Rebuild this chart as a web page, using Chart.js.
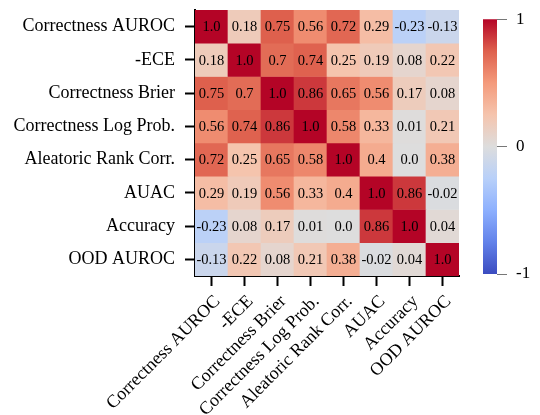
<!DOCTYPE html>
<html>
<head>
<meta charset="utf-8">
<script src="https://cdn.jsdelivr.net/npm/chart.js@4.4.1/dist/chart.umd.min.js"></script>
<style>
  html, body { margin: 0; padding: 0; background: #fff; }
  #wrap { position: relative; width: 540px; height: 415px; }
  #main { position: absolute; left: 0; top: 0; width: 540px; height: 415px; }
  #bar { position: absolute; left: 470px; top: 0; width: 70px; height: 415px; }
</style>
</head>
<body>
<div id="wrap">
  <div id="main"><canvas id="heatmap"></canvas></div>
  <div id="bar"><canvas id="colorbar"></canvas></div>
</div>
<script>
// --- datos ---
const metrics = [
  'Correctness AUROC', '-ECE', 'Correctness Brier', 'Correctness Log Prob.',
  'Aleatoric Rank Corr.', 'AUAC', 'Accuracy', 'OOD AUROC'
];
const rowAUROC   = [1.0, 0.18, 0.75, 0.56, 0.72, 0.29, -0.23, -0.13];
const rowECE     = [0.18, 1.0, 0.7, 0.74, 0.25, 0.19, 0.08, 0.22];
const rowBrier   = [0.75, 0.7, 1.0, 0.86, 0.65, 0.56, 0.17, 0.08];
const rowLogProb = [0.56, 0.74, 0.86, 1.0, 0.58, 0.33, 0.01, 0.21];
const rowRank    = [0.72, 0.25, 0.65, 0.58, 1.0, 0.4, 0.0, 0.38];
const rowAUAC    = [0.29, 0.19, 0.56, 0.33, 0.4, 1.0, 0.86, -0.02];
const rowAcc     = [-0.23, 0.08, 0.17, 0.01, 0.0, 0.86, 1.0, 0.04];
const rowOOD     = [-0.13, 0.22, 0.08, 0.21, 0.38, -0.02, 0.04, 1.0];
const corrRows = [rowAUROC, rowECE, rowBrier, rowLogProb, rowRank, rowAUAC, rowAcc, rowOOD];
const colorbarTicks = [-1, 0, 1];

const FONT = '"Liberation Serif", "Times New Roman", serif';

// coolwarm (matplotlib), 9 paradas
const coolwarm = [
  [59, 76, 192], [98, 130, 234], [141, 176, 254], [184, 208, 249],
  [221, 221, 221], [245, 196, 173], [244, 154, 123], [222, 96, 77], [180, 4, 38]
];
function cwColor(v) {
  let t = Math.max(0, Math.min(1, (v + 1) / 2)) * (coolwarm.length - 1);
  let i = Math.min(Math.floor(t), coolwarm.length - 2);
  let f = t - i;
  const a = coolwarm[i], b = coolwarm[i + 1];
  const c = a.map((x, k) => Math.round(x + (b[k] - x) * f));
  return `rgb(${c[0]},${c[1]},${c[2]})`;
}
function fmt(v) {
  return Number.isInteger(Math.round(v * 100) / 10) ? v.toFixed(1) : String(v);
}

// texto dentro de cada celda
const cellText = {
  id: 'cellText',
  afterDatasetsDraw(chart) {
    const ctx = chart.ctx;
    ctx.save();
    ctx.font = '14.5px ' + FONT;
    ctx.fillStyle = '#000';
    ctx.textAlign = 'center';
    ctx.textBaseline = 'middle';
    chart.data.datasets.forEach((ds, i) => {
      chart.getDatasetMeta(i).data.forEach((el, j) => {
        const p = el.getCenterPoint();
        ctx.fillText(fmt(corrRows[i][j]), p.x, p.y + 1);
      });
    });
    ctx.restore();
  }
};

new Chart(document.getElementById('heatmap'), {
  type: 'bar',
  data: {
    labels: metrics,
    datasets: corrRows.map((row, i) => ({
      label: metrics[i],
      data: row.map(() => [i, i + 1]),
      backgroundColor: row.map(cwColor),
      borderWidth: 0,
      grouped: false,
      barPercentage: 1,
      categoryPercentage: 1
    }))
  },
  options: {
    responsive: true,
    maintainAspectRatio: false,
    animation: false,
    layout: { padding: { top: 10, right: 81, left: 0, bottom: 0 } },
    plugins: { legend: { display: false }, tooltip: { enabled: false } },
    scales: {
      x: {
        type: 'category',
        afterFit: s => { s.height = 139; s.paddingLeft = 0; s.paddingRight = 0; },
        grid: { drawOnChartArea: false, tickLength: 10, tickColor: '#000', tickWidth: 2, offset: false },
        border: { display: true, color: '#000', width: 2 },
        ticks: {
          font: { size: 18, family: FONT }, color: '#000',
          maxRotation: 45, minRotation: 45, padding: 5, labelOffset: 6, autoSkip: false
        }
      },
      y: {
        type: 'linear', min: 0, max: 8, reverse: true,
        afterFit: s => { s.width = 195; s.paddingTop = 0; s.paddingBottom = 0; },
        afterBuildTicks: s => { s.ticks = metrics.map((_, i) => ({ value: i + 0.5 })); },
        grid: { drawOnChartArea: false, tickLength: 10, tickColor: '#000', tickWidth: 2 },
        border: { display: true, color: '#000', width: 2 },
        ticks: {
          font: { size: 18, family: FONT }, color: '#000', padding: 10,
          callback: (v) => metrics[Math.floor(v)]
        }
      }
    }
  },
  plugins: [cellText]
});

// barra de color
new Chart(document.getElementById('colorbar'), {
  type: 'bar',
  data: {
    labels: ['cb'],
    datasets: [{
      data: [[-1, 1]],
      borderWidth: 0,
      barPercentage: 1,
      categoryPercentage: 1,
      backgroundColor: (c) => {
        const area = c.chart.chartArea;
        if (!area) return '#ddd';
        const g = c.chart.ctx.createLinearGradient(0, area.bottom, 0, area.top);
        coolwarm.forEach((rgb, k) => g.addColorStop(k / (coolwarm.length - 1), `rgb(${rgb.join(',')})`));
        return g;
      }
    }]
  },
  options: {
    responsive: true,
    maintainAspectRatio: false,
    animation: false,
    layout: { padding: { top: 10, left: 13, right: 0, bottom: 141 } },
    plugins: { legend: { display: false }, tooltip: { enabled: false } },
    scales: {
      x: { display: false },
      y: {
        type: 'linear', position: 'right', min: -1, max: 1,
        afterFit: s => { s.width = 43; },
        afterBuildTicks: s => { s.ticks = colorbarTicks.map(v => ({ value: v })); },
        grid: { drawOnChartArea: false, tickLength: 10, tickColor: '#777', tickWidth: 1 },
        border: { display: false },
        ticks: { font: { size: 17, family: FONT }, color: '#000', padding: 9 }
      }
    }
  }
});
</script>
</body>
</html>
